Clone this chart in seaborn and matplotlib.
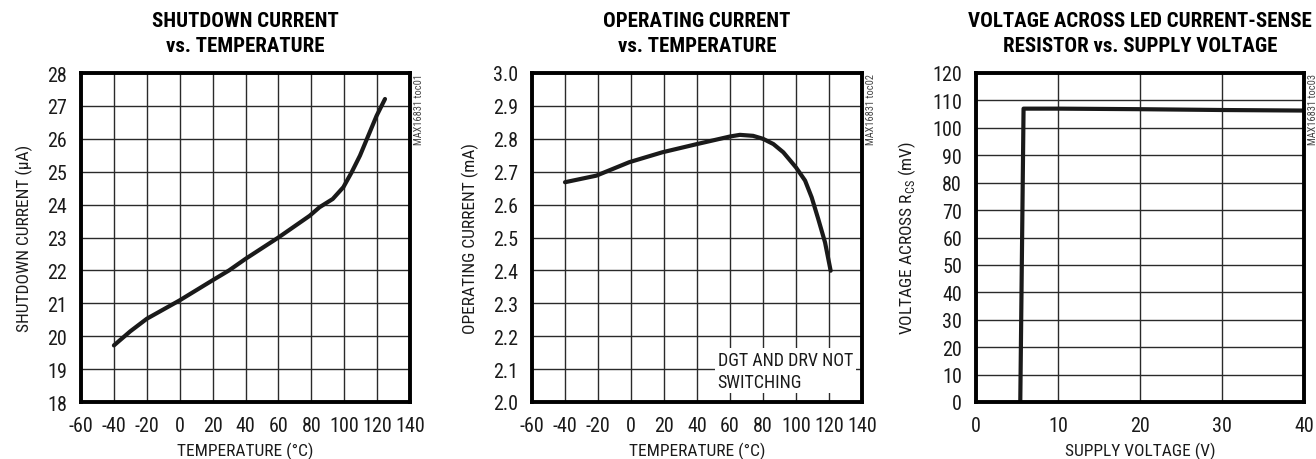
import matplotlib
matplotlib.use("Agg")
import matplotlib.pyplot as plt
import seaborn as sns
from matplotlib import font_manager

sns.set_theme(style="white")
names = {f.name for f in font_manager.fontManager.ttflist}
cands = ["Roboto Condensed", "Archivo Narrow", "Liberation Sans Narrow", "PT Sans Narrow", "Liberation Sans"]
fam = next(c for c in cands if c in names or c == "Liberation Sans")
plt.rcParams["font.family"] = [fam, "DejaVu Sans"]
plt.rcParams["axes.unicode_minus"] = False
plt.rcParams["mathtext.fontset"] = "custom"
plt.rcParams["mathtext.rm"] = fam

# Panel 1: shutdown current vs temperature
t1 = [-40, -30, -20, 0, 20, 30, 40, 60, 79, 85, 93, 99.5, 104.5, 109.6, 114.6, 119.7, 124.8]
i_sd = [19.72, 20.15, 20.53, 21.09, 21.7, 22.0, 22.35, 23.0, 23.66, 23.92, 24.17, 24.53, 24.98, 25.49, 26.09, 26.7, 27.21]

# Panel 2: operating current vs temperature
t2 = [-40, -21, -1, 19, 40, 60, 66, 74, 80, 86.3, 92.3, 100, 105.5, 109.5, 113.5, 117.6, 121]
i_op = [2.668, 2.688, 2.729, 2.759, 2.784, 2.807, 2.812, 2.809, 2.80, 2.784, 2.759, 2.713, 2.673, 2.622, 2.556, 2.485, 2.399]

# Panel 3: voltage across RCS vs supply voltage
vsup = [5.4, 5.8, 10, 20, 30, 40]
vcs = [0, 107, 107, 106.8, 106.5, 106.3]

W, H = 1316, 460
fig = plt.figure(figsize=(W / 100, H / 100), dpi=100)

def px_axes(l, t, r, b):
    return fig.add_axes([l / W, 1 - b / H, (r - l) / W, (b - t) / H])

tick_fs = 14.5
lab_fs = 12.5
title_fs = 15

def style(ax, xlim, xticks, ylim, yticks, xlabel, ylabel, title, tag, yfmt=None):
    ax.set_xlim(*xlim)
    ax.set_ylim(*ylim)
    ax.set_xticks(xticks)
    ax.set_yticks(yticks)
    if yfmt:
        ax.set_yticklabels([yfmt.format(v) for v in yticks])
    ax.grid(True, color="#2a2a2a", linewidth=1.0)
    ax.set_axisbelow(True)
    for s in ax.spines.values():
        s.set_color("black")
        s.set_linewidth(2.8)
        s.set_zorder(5)
    ax.tick_params(axis="both", length=0, labelsize=tick_fs, colors="#1a1a1a")
    ax.tick_params(axis="x", pad=10)
    ax.tick_params(axis="y", pad=10)
    ax.set_xlabel(xlabel, fontsize=lab_fs, color="#1a1a1a", labelpad=5)
    ax.set_ylabel(ylabel, fontsize=lab_fs, color="#1a1a1a", labelpad=10)
    ax.set_title(title, fontsize=title_fs, fontweight="black", color="black", pad=16, linespacing=1.4)
    ax.text(1.028, 1.0, tag, transform=ax.transAxes, rotation=90, ha="center", va="top",
            fontsize=7.5, color="#444444")

ax1 = px_axes(81, 74, 410, 403)
sns.lineplot(x=t1, y=i_sd, ax=ax1, color="#1a1a1a", linewidth=3.0, sort=False)
style(ax1, (-60, 140), list(range(-60, 141, 20)), (18, 28), list(range(18, 29)),
      "TEMPERATURE (°C)", "SHUTDOWN CURRENT (µA)",
      "SHUTDOWN CURRENT\nvs. TEMPERATURE", "MAX16831 toc01")

ax2 = px_axes(532, 74, 862, 403)
sns.lineplot(x=t2, y=i_op, ax=ax2, color="#1a1a1a", linewidth=3.0, sort=False)
yt2 = [round(2.0 + 0.1 * k, 1) for k in range(11)]
style(ax2, (-60, 140), list(range(-60, 141, 20)), (2.0, 3.0), yt2,
      "TEMPERATURE (°C)", "OPERATING CURRENT (mA)",
      "OPERATING CURRENT\nvs. TEMPERATURE", "MAX16831 toc02", yfmt="{:.1f}")
ax2.text(52.5, 2.155, "DGT AND DRV NOT\nSWITCHING", fontsize=13, color="#1a1a1a",
         ha="left", va="top", linespacing=1.25,
         bbox=dict(facecolor="white", edgecolor="none", pad=2))

ax3 = px_axes(976, 74, 1304, 403)
sns.lineplot(x=vsup, y=vcs, ax=ax3, color="#1a1a1a", linewidth=3.0, sort=False)
style(ax3, (0, 40), [0, 10, 20, 30, 40], (0, 120), list(range(0, 121, 10)),
      "SUPPLY VOLTAGE (V)", r"VOLTAGE ACROSS R$_{\mathregular{CS}}$ (mV)",
      "VOLTAGE ACROSS LED CURRENT-SENSE\nRESISTOR vs. SUPPLY VOLTAGE", "MAX16831 toc03")

fig.savefig("out.png", dpi=100, facecolor="white")
